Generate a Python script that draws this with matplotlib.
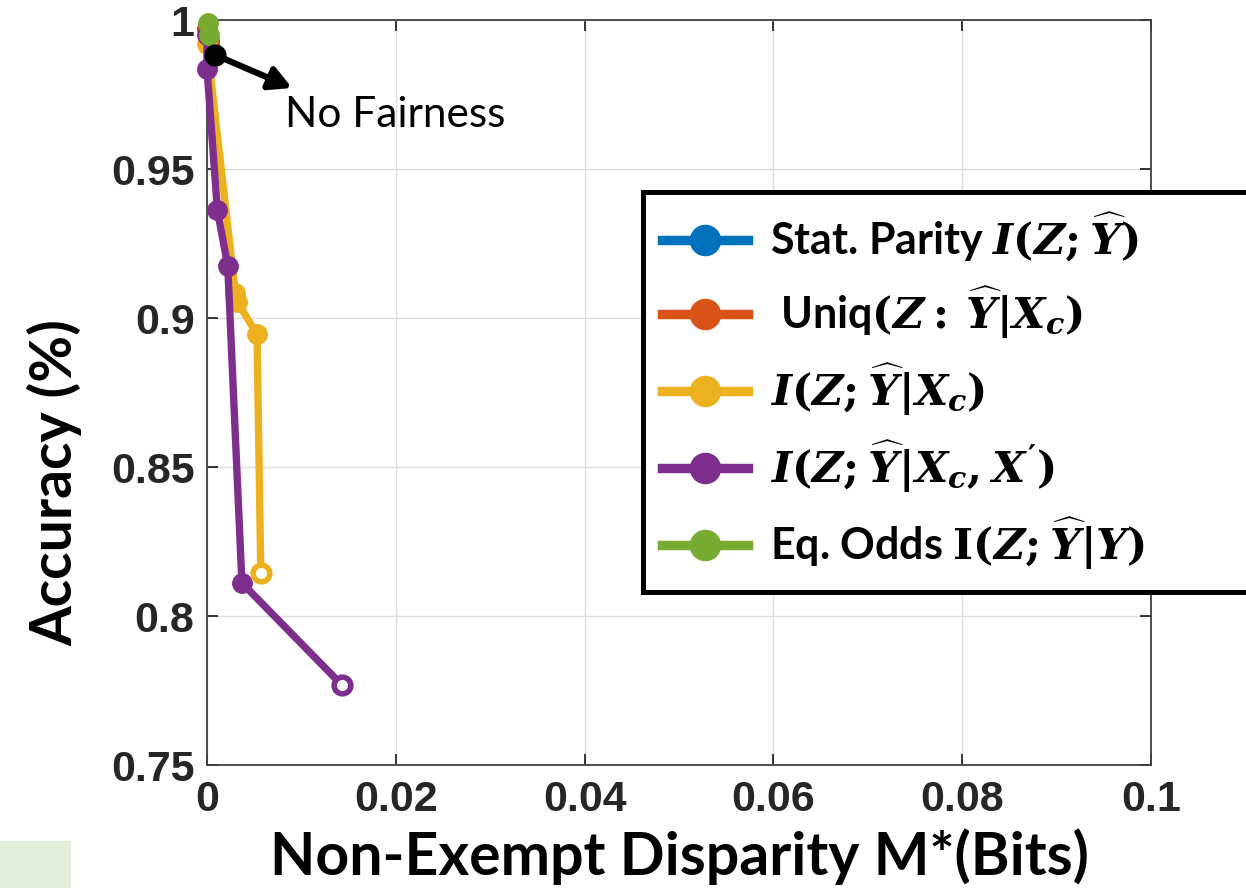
import matplotlib
matplotlib.use("Agg")
import matplotlib.pyplot as plt
from matplotlib.patches import Rectangle

plt.rcParams['mathtext.fontset'] = 'custom'
plt.rcParams['mathtext.it'] = 'DejaVu Serif:italic:bold'
plt.rcParams['mathtext.rm'] = 'DejaVu Serif:bold'
plt.rcParams['mathtext.bf'] = 'DejaVu Serif:bold'

# data
sp_x = [0.0, 0.0002]
sp_y = [0.997, 0.993]
uniq_x = [0.0, 0.0002]
uniq_y = [0.997, 0.992]
cond_x = [0.0, 0.0030, 0.0032, 0.0053, 0.0057]
cond_y = [0.992, 0.9084, 0.9054, 0.8946, 0.8144]
cond2_x = [0.0, 0.0, 0.0011, 0.0022, 0.0037, 0.0143]
cond2_y = [0.995, 0.9836, 0.9362, 0.9174, 0.8111, 0.7768]
eo_x = [0.0001, 0.0002]
eo_y = [0.999, 0.995]
nofair_x = [0.00085]
nofair_y = [0.9883]

labels = [r'Stat. Parity $I(Z;\widehat{Y})$',
          r' Uniq$(Z{:}\,\widehat{Y}|X_c)$',
          r'$I(Z;\widehat{Y}|X_c)$',
          r"$I(Z;\widehat{Y}|X_c,X')$",
          r'Eq. Odds $\mathbf{I}(Z;\widehat{Y}|Y)$']
colors = ['#0072BD', '#D95319', '#EDB120', '#7E2F8E', '#77AC30']
xticks = [0, 0.02, 0.04, 0.06, 0.08, 0.1]
xticklabels = ['0', '0.02', '0.04', '0.06', '0.08', '0.1']
yticks = [0.75, 0.8, 0.85, 0.9, 0.95, 1.0]
yticklabels = ['0.75', '0.8', '0.85', '0.9', '0.95', '1']

fig = plt.figure(figsize=(12.46, 8.88), dpi=100)
ax = fig.add_axes([207/1246, 1-765/888, 944/1246, 745/888])

series = [(sp_x, sp_y), (uniq_x, uniq_y), (cond_x, cond_y), (cond2_x, cond2_y), (eo_x, eo_y)]
handles = []
for (xs, ys), c, lab in zip(series, colors, labels):
    h, = ax.plot(xs, ys, '-o', color=c, lw=5.3, ms=14, mec=c, label=lab, clip_on=False, zorder=3)
    handles.append(h)

# last points drawn as rings
for xs, ys, c in [(cond_x, cond_y, colors[2]), (cond2_x, cond2_y, colors[3])]:
    ax.plot(xs[-1:], ys[-1:], 'o', ms=12, mfc='white', mec=c, mew=4, zorder=4)

ax.plot(nofair_x, nofair_y, 'o', color='black', ms=15, clip_on=False, zorder=5)
ax.annotate('', xy=(0.0090, 0.9772), xytext=(nofair_x[0], nofair_y[0]),
            arrowprops=dict(arrowstyle='-|>,head_length=1.3,head_width=0.7', color='black', lw=4.5,
                            shrinkA=0, shrinkB=0), zorder=5)
ax.text(0.00826, 0.9641, 'No Fairness', family='Lato', fontsize=30.5, color='black', zorder=5)

ax.set_xlim(0, 0.1)
ax.set_ylim(0.75, 1.0)
ax.set_xticks(xticks)
ax.set_xticklabels(xticklabels)
ax.set_yticks(yticks)
ax.set_yticklabels(yticklabels)
for lab in ax.get_xticklabels() + ax.get_yticklabels():
    lab.set_family('Liberation Sans')
    lab.set_fontweight('bold')
    lab.set_fontsize(31)
    lab.set_color('#262626')
ax.tick_params(direction='in', length=8, width=1.3, top=True, right=True, colors='#262626')
ax.tick_params(axis='x', pad=11)
ax.tick_params(axis='y', pad=9)
ax.grid(True, color='#dddddd', lw=1)
ax.set_axisbelow(True)
for s in ax.spines.values():
    s.set_color('#404040')
    s.set_linewidth(1.3)

ax.set_xlabel('Non-Exempt Disparity M*(Bits)', family='Lato', fontweight='bold', fontsize=42.5, labelpad=6)
ax.set_ylabel('Accuracy (%)', family='Lato', fontweight='bold', fontsize=41)
ax.yaxis.set_label_coords((82 - 207) / 944, (765 - 483) / 745)

leg = fig.legend(handles=handles, loc='upper left',
                 bbox_to_anchor=(643/1246, 1-592/888, 0.6, 400/888), mode='expand',
                 borderaxespad=0,
                 prop={'family': 'Lato', 'weight': 'bold', 'size': 31},
                 frameon=True, fancybox=False, edgecolor='black', framealpha=1,
                 handlelength=1.98, handletextpad=0.53, labelspacing=0.48, borderpad=0.45,
                 markerscale=1.55)
leg.get_frame().set_linewidth(3.6)
for lh in leg.get_lines():
    lh.set_linewidth(6.8)

fig.patches.append(Rectangle((0, 0), 71/1246, 47/888, transform=fig.transFigure,
                             facecolor='#e2efda', edgecolor='none'))

fig.savefig('out.png', dpi=100)
